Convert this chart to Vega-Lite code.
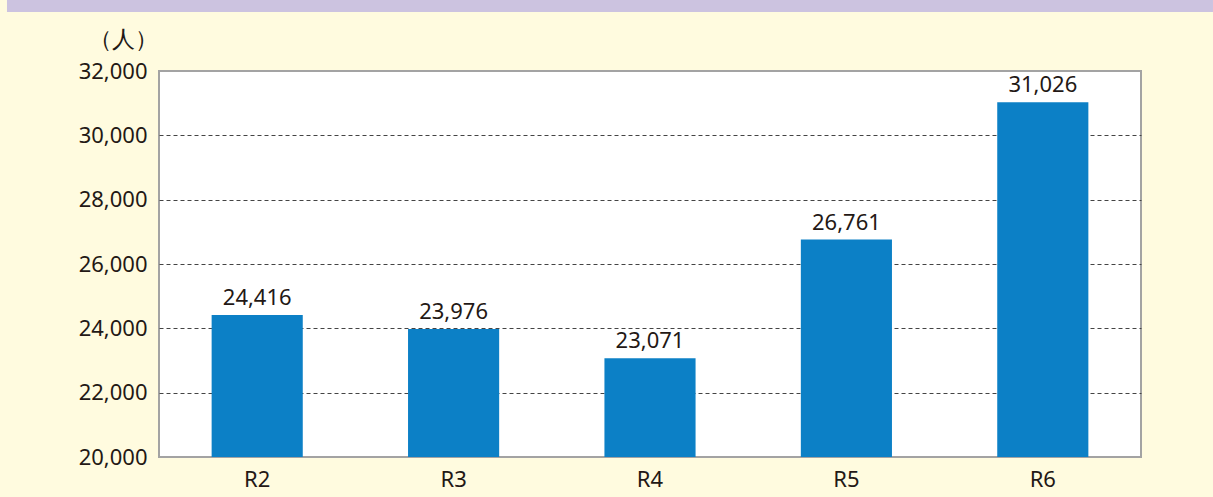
{
  "$schema": "https://vega.github.io/schema/vega-lite/v6.json",
  "width": 982,
  "height": 386,
  "autosize": {"type": "none"},
  "padding": {"left": 159, "top": 71, "right": 72, "bottom": 40},
  "background": "#FFFBDF",
  "config": {
    "view": {"fill": "#FFFFFF", "stroke": "#A3A3A3", "strokeWidth": 2},
    "font": "Noto Sans",
    "axis": {"labelFont": "Noto Sans", "titleFont": "Noto Sans"}
  },
  "datasets": {
    "header": [{"part": "header", "x0": -0.1548, "x1": 1.0733, "y0": 33834, "y1": 34210}],
    "visitors": [
      {"year": "R2", "value": 24416},
      {"year": "R3", "value": 23976},
      {"year": "R4", "value": 23071},
      {"year": "R5", "value": 26761},
      {"year": "R6", "value": 31026}
    ]
  },
  "layer": [
    {
      "data": {"name": "header"},
      "mark": {"type": "rect", "color": "#CCC3E0", "clip": false},
      "encoding": {
        "x": {"field": "x0", "type": "quantitative", "scale": {"domain": [0, 1], "nice": false, "zero": false}, "axis": null},
        "x2": {"field": "x1"},
        "y": {"field": "y0", "type": "quantitative", "scale": {"domain": [20000, 32000], "nice": false, "zero": false}, "axis": null},
        "y2": {"field": "y1"}
      }
    },
    {
      "data": {"name": "visitors"},
      "encoding": {
        "x": {
          "field": "year", "type": "nominal", "sort": null,
          "scale": {"paddingInner": 0.536, "paddingOuter": 0.268},
          "axis": {"title": null, "labelAngle": 0, "ticks": false, "domain": false, "labelFontSize": 22, "labelColor": "#231815", "labelPadding": 12, "labelBaseline": "top"}
        },
        "y": {
          "field": "value", "type": "quantitative",
          "scale": {"domain": [20000, 32000], "nice": false, "zero": false},
          "axis": {
            "title": "（人）", "titleAngle": 0, "titleAlign": "right", "titleBaseline": "alphabetic",
            "titleX": -2, "titleY": -25, "titleFontSize": 23, "titleFontWeight": "normal", "titleColor": "#231815",
            "values": [20000, 22000, 24000, 26000, 28000, 30000, 32000],
            "labelExpr": "format(datum.value, ',d')", "labelFontSize": 22, "labelColor": "#231815", "labelPadding": 12,
            "ticks": false, "domain": false,
            "grid": true, "gridDash": [4, 3], "gridColor": "#444444", "gridWidth": 1,
            "gridOpacity": {"condition": {"test": "datum.value === 20000 || datum.value === 32000", "value": 0}, "value": 1}
          }
        }
      },
      "layer": [
        {"mark": {"type": "bar", "color": "#0C80C6"}, "encoding": {"y2": {"datum": 20000}}},
        {"mark": {"type": "text", "baseline": "bottom", "dy": -5, "fontSize": 22, "color": "#231815"}, "encoding": {"text": {"field": "value", "type": "quantitative", "format": ",d"}}}
      ]
    }
  ],
  "resolve": {"scale": {"x": "independent", "y": "independent"}}
}
